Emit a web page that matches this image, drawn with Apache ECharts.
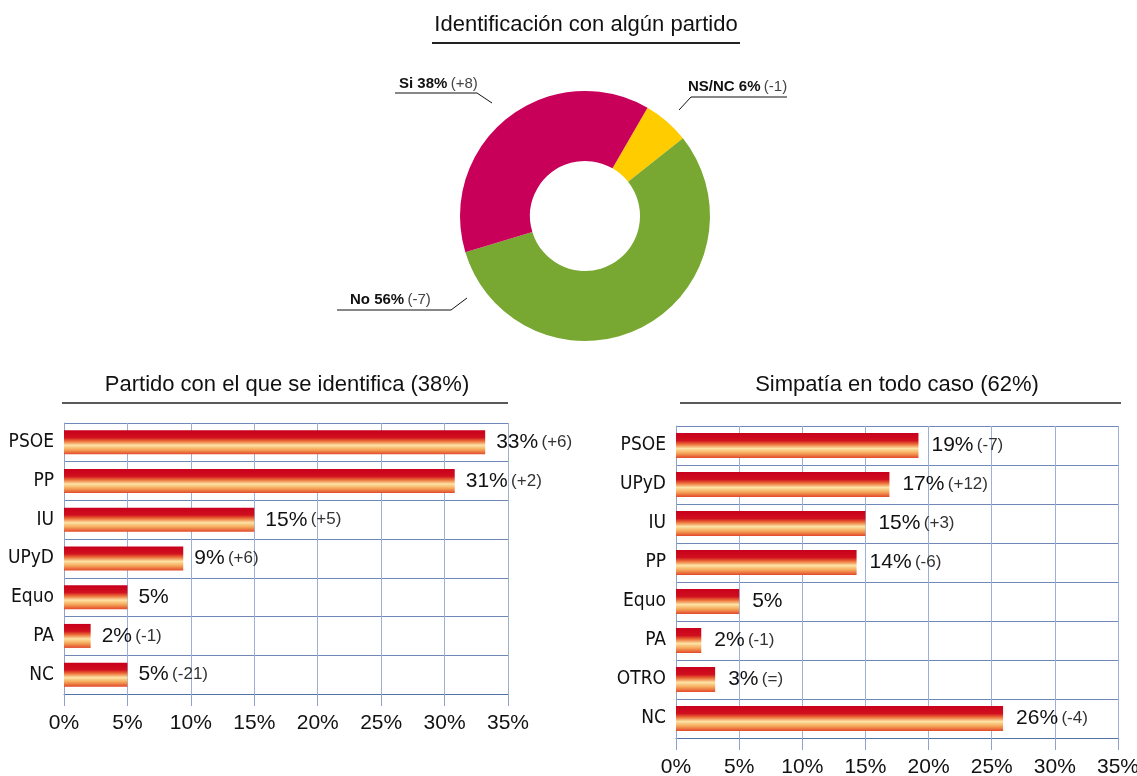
<!DOCTYPE html>
<html><head><meta charset="utf-8">
<script src="https://cdn.jsdelivr.net/npm/echarts@6/dist/echarts.min.js"></script>
<style>html,body{margin:0;padding:0;background:#fff}#c{width:1137px;height:776px}</style>
</head><body><div id="c"></div>
<script>
// ---------- data ----------
const pieNames = ['NS/NC', 'No', 'Si'];
const pieValues = [6, 56, 38];
const pieChanges = ['(-1)', '(-7)', '(+8)'];
const pieColors = ['#ffcc00', '#78a832', '#c8005a'];

const leftCats = ['PSOE', 'PP', 'IU', 'UPyD', 'Equo', 'PA', 'NC'];
const leftValues = [33.2, 30.8, 15, 9.4, 5, 2.1, 5];
const leftLabels = ['33%', '31%', '15%', '9%', '5%', '2%', '5%'];
const leftChanges = ['(+6)', '(+2)', '(+5)', '(+6)', '', '(-1)', '(-21)'];

const rightCats = ['PSOE', 'UPyD', 'IU', 'PP', 'Equo', 'PA', 'OTRO', 'NC'];
const rightValues = [19.2, 16.9, 15, 14.3, 5, 2, 3.1, 25.9];
const rightLabels = ['19%', '17%', '15%', '14%', '5%', '2%', '3%', '26%'];
const rightChanges = ['(-7)', '(+12)', '(+3)', '(-6)', '', '(-1)', '(=)', '(-4)'];

const xTicks = [0, 5, 10, 15, 20, 25, 30, 35];

const titles = ['Identificación con algún partido', 'Partido con el que se identifica (38%)', 'Simpatía en todo caso (62%)'];

// ---------- styling ----------
const F = "'Liberation Sans', Arial, Helvetica, sans-serif";
const FN = "'Liberation Sans Narrow', 'DejaVu Sans Condensed', 'Liberation Sans', sans-serif";
const CX = 585, CY = 216;
// pie label geometry relative to the pie centre: start, elbow, end of the leader line; text left/bottom
const pieLabelGeom = [
  { s: [94, -106], e: [106, -119], t: [202, -119], tx: 103, ty: -121 },
  { s: [-118, 82], e: [-134, 94], t: [-248, 94], tx: -235, ty: 92 },
  { s: [-93, -113], e: [-108, -123], t: [-190, -123], tx: -186, ty: -124 }
];

const barGrad = new echarts.graphic.LinearGradient(0, 0, 0, 1, [
  { offset: 0, color: '#c8001c' },
  { offset: 0.3, color: '#d0101e' },
  { offset: 0.45, color: '#ec7038' },
  { offset: 0.62, color: '#fde3a4' },
  { offset: 0.8, color: '#f5a85a' },
  { offset: 1, color: '#e2482a' }
]);

function barLabel(labels, changes) {
  return function (p) {
    const c = changes[p.dataIndex];
    return '{v|' + labels[p.dataIndex] + '}' + (c ? ' {c|' + c + '}' : '');
  };
}
const barRich = {
  v: { fontSize: 21, color: '#111', fontFamily: F },
  c: { fontSize: 17, color: '#333', fontFamily: F }
};

function xAxisCfg(idx) {
  return {
    gridIndex: idx, type: 'value',
    min: xTicks[0], max: xTicks[xTicks.length - 1], interval: xTicks[1] - xTicks[0],
    axisLine: { show: true, lineStyle: { color: '#5572a4', width: 1 } },
    axisTick: { show: true, length: 12, lineStyle: { color: '#8da3cb' } },
    splitLine: { show: true, lineStyle: { color: '#9cb0d4', width: 1 } },
    axisLabel: { formatter: '{value}%', fontSize: 21, color: '#111', fontFamily: F, margin: 19 }
  };
}
function yAxisCfg(idx, cats) {
  return {
    gridIndex: idx, type: 'category', data: cats, inverse: true,
    axisLine: { show: true, lineStyle: { color: '#8da3cb' } },
    axisTick: { show: false },
    splitLine: { show: true, interval: 0, lineStyle: { color: '#6f88b8', width: 1 } },
    axisLabel: { interval: 0, fontSize: 19, color: '#111', fontFamily: FN, margin: 10 }
  };
}

const chart = echarts.init(document.getElementById('c'), null, { renderer: 'canvas' });
chart.setOption({
  animation: false,
  backgroundColor: '#fff',
  grid: [
    { left: 64, top: 423, width: 444, height: 271, containLabel: false, outerBoundsMode: 'none' },
    { left: 676, top: 426, width: 442, height: 312, containLabel: false, outerBoundsMode: 'none' }
  ],
  xAxis: [xAxisCfg(0), xAxisCfg(1)],
  yAxis: [yAxisCfg(0, leftCats), yAxisCfg(1, rightCats)],
  graphic: [
    { type: 'text', x: 586, y: 25, style: { text: titles[0], align: 'center', verticalAlign: 'middle', font: '22px ' + F, fill: '#111' } },
    { type: 'line', shape: { x1: 432, y1: 43, x2: 740, y2: 43 }, style: { stroke: '#222', lineWidth: 2 } },
    { type: 'text', x: 287, y: 385, style: { text: titles[1], align: 'center', verticalAlign: 'middle', font: '22px ' + F, fill: '#111' } },
    { type: 'line', shape: { x1: 62, y1: 403, x2: 508, y2: 403 }, style: { stroke: '#222', lineWidth: 1.5 } },
    { type: 'text', x: 897, y: 385, style: { text: titles[2], align: 'center', verticalAlign: 'middle', font: '22px ' + F, fill: '#111' } },
    { type: 'line', shape: { x1: 680, y1: 403, x2: 1121, y2: 403 }, style: { stroke: '#222', lineWidth: 1.5 } }
  ],
  series: [
    {
      type: 'pie', center: [CX, CY], radius: [55, 125], startAngle: 60, clockwise: true,
      avoidLabelOverlap: false,
      data: pieNames.map((n, i) => ({ name: n, value: pieValues[i], itemStyle: { color: pieColors[i] } })),
      label: {
        show: true, position: 'outside',
        formatter: p => '{b|' + p.name + ' ' + p.value + '%} {n|' + pieChanges[p.dataIndex] + '}',
        rich: {
          b: { fontSize: 15, fontWeight: 'bold', color: '#111', fontFamily: F, lineHeight: 17 },
          n: { fontSize: 15, color: '#444', fontFamily: F, lineHeight: 17 }
        }
      },
      labelLine: { show: true, length: 15, length2: 80, lineStyle: { color: '#111', width: 1 } },
      labelLayout: function (p) {
        const g = pieLabelGeom[p.dataIndex];
        return {
          x: CX + g.tx, y: CY + g.ty, align: 'left', verticalAlign: 'bottom',
          labelLinePoints: [[CX + g.s[0], CY + g.s[1]], [CX + g.e[0], CY + g.e[1]], [CX + g.t[0], CY + g.t[1]]]
        };
      },
      emphasis: { disabled: true }
    },
    {
      type: 'bar', xAxisIndex: 0, yAxisIndex: 0, data: leftValues, barWidth: 24,
      itemStyle: { color: barGrad },
      label: { show: true, position: 'right', distance: 11, formatter: barLabel(leftLabels, leftChanges), rich: barRich },
      emphasis: { disabled: true }
    },
    {
      type: 'bar', xAxisIndex: 1, yAxisIndex: 1, data: rightValues, barWidth: 25,
      itemStyle: { color: barGrad },
      label: { show: true, position: 'right', distance: 13, formatter: barLabel(rightLabels, rightChanges), rich: barRich },
      emphasis: { disabled: true }
    }
  ]
});
</script>
</body></html>
